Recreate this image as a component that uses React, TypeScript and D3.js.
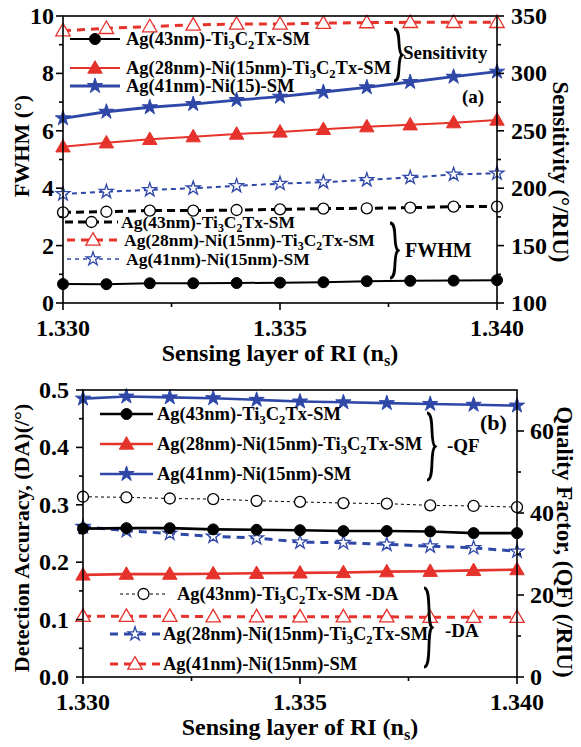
import React from "react";
import * as d3 from "d3";

// refractive index of the sensing layer
const ri = [1.33, 1.331, 1.332, 1.333, 1.334, 1.335, 1.336, 1.337, 1.338, 1.339, 1.34];

// (a) sensitivity, deg/RIU (right axis)
const sensAgTi = [116.5, 116.4, 117.2, 117.2, 117.4, 117.7, 118.1, 119.0, 119.3, 119.5, 119.9];
const sensAgNiTi = [236.1, 239.6, 242.6, 244.9, 247.2, 249.0, 251.3, 253.6, 255.3, 257.1, 259.4];
const sensAgNi = [260.9, 266.6, 270.5, 273.3, 276.8, 279.7, 283.8, 287.9, 292.5, 297.1, 301.5];
// (a) FWHM, deg (left axis)
const fwhmAgTi = [3.16, 3.18, 3.22, 3.22, 3.24, 3.26, 3.29, 3.3, 3.32, 3.36, 3.36];
const fwhmAgNiTi = [9.49, 9.57, 9.63, 9.69, 9.72, 9.72, 9.75, 9.77, 9.78, 9.78, 9.78];
const fwhmAgNi = [3.8, 3.88, 3.94, 4.0, 4.08, 4.16, 4.21, 4.29, 4.37, 4.48, 4.52];

// (b) quality factor, /RIU (right axis)
const qfAgTi = [36.2, 36.3, 36.3, 36.0, 35.9, 35.8, 35.6, 35.6, 35.5, 35.1, 35.1];
const qfAgNiTi = [24.9, 25.1, 25.1, 25.2, 25.3, 25.4, 25.5, 25.7, 25.8, 26.0, 26.2];
const qfAgNi = [67.9, 68.4, 68.2, 68.0, 67.6, 67.2, 67.0, 66.8, 66.6, 66.4, 66.2];
// (b) detection accuracy, /deg (left axis)
const daAgTi = [0.314, 0.313, 0.311, 0.31, 0.307, 0.305, 0.303, 0.302, 0.299, 0.298, 0.296];
const daAgNiTi = [0.262, 0.255, 0.25, 0.245, 0.242, 0.235, 0.234, 0.231, 0.228, 0.225, 0.219];
const daAgNi = [0.106, 0.106, 0.106, 0.105, 0.105, 0.105, 0.105, 0.105, 0.104, 0.104, 0.104];

const xTicks = [1.33, 1.335, 1.34];

const RED = "#e5322b";
const BLUE = "#2f48a8";
const FONT = "'Liberation Serif', 'Times New Roman', serif";

// "Ti_3C_2Tx" -> subscripts
const Rich = ({ s }: { s: string }) => {
  const parts = s.split(/_(\w)/);
  return (
    <>
      {parts.map((p, i) =>
        i % 2 === 1 ? (
          <tspan key={i} dy={4} fontSize="0.68em">{p}</tspan>
        ) : (
          <tspan key={i} dy={i === 0 ? 0 : -4}>{p}</tspan>
        )
      )}
    </>
  );
};

const Marker = ({ kind, x, y, color }: any) => {
  if (kind === "circle") return <circle cx={x} cy={y} r={5.5} fill={color} stroke={color} />;
  if (kind === "ocircle") return <circle cx={x} cy={y} r={5.5} fill="white" stroke={color} strokeWidth={1.3} />;
  const tri = kind.includes("tri");
  const open = kind.startsWith("o");
  const size = tri ? 90 : open ? 58 : 72;
  const d = d3.symbol().type(tri ? d3.symbolTriangle : d3.symbolStar).size(size)()!;
  return (
    <path d={d} transform={`translate(${x},${y + (tri ? 1 : 0)})`}
      fill={open ? "white" : color} stroke={color} strokeWidth={open ? 1.3 : 1} />
  );
};

const Series = ({ xs, ys, x, y, color, marker, width, dash }: any) => {
  const line = d3.line<number>().x((_, i) => x(xs[i])).y((v) => y(v));
  return (
    <g>
      <path d={line(ys)!} fill="none" stroke={color} strokeWidth={width} strokeDasharray={dash} />
      {ys.map((v: number, i: number) => (
        <Marker key={i} kind={marker} x={x(xs[i])} y={y(v)} color={color} />
      ))}
    </g>
  );
};

const LegendRow = ({ x1, x2, y, color, marker, width, dash, label, tx, fs }: any) => (
  <g>
    <line x1={x1} x2={x2} y1={y} y2={y} stroke={color} strokeWidth={width} strokeDasharray={dash} />
    <Marker kind={marker} x={(x1 + x2) / 2} y={y} color={color} />
    <text x={tx} y={y + 6} fontSize={fs} fontWeight="bold"><Rich s={label} /></text>
  </g>
);

const Brace = ({ x, y1, y2 }: any) => {
  const m = (y1 + y2) / 2;
  const w = 8;
  const d = `M${x},${y1} C${x + w},${y1} ${x + w * 0.3},${m - 4} ${x + w},${m} C${x + w * 0.3},${m + 4} ${x + w},${y2} ${x},${y2}`;
  return <path d={d} fill="none" stroke="black" strokeWidth={2.8} />;
};

const Panel = ({ box, yL, yR, yLTicks, yLMinor, yRTicks, yRMinor, fmtL, offL, offR, leftTitle, rightTitle, leftTitleY, rightTitleY, rightTitleX, children }: any) => {
  const { l, r, t, b } = box;
  const x = d3.scaleLinear().domain([1.33, 1.34]).range([l, r]);
  const xMinor = [1.3325, 1.3375];
  const tk = 7;
  return (
    <g fontFamily={FONT} fontWeight="bold">
      {children(x)}
      <rect x={l} y={t} width={r - l} height={b - t} fill="none" stroke="black" strokeWidth={1.6} />
      {xTicks.map((v) => (
        <g key={v}>
          <line x1={x(v)} x2={x(v)} y1={b} y2={b + tk} stroke="black" strokeWidth={1.6} />
          <text x={x(v)} y={b + 33} textAnchor="middle" fontSize={24}>{d3.format(".3f")(v)}</text>
        </g>
      ))}
      {xMinor.map((v) => <line key={v} x1={x(v)} x2={x(v)} y1={b} y2={b + 4} stroke="black" strokeWidth={1.6} />)}
      {yLTicks.map((v: number) => (
        <g key={v}>
          <line x1={l - tk} x2={l} y1={yL(v)} y2={yL(v)} stroke="black" strokeWidth={1.6} />
          <text x={l - offL} y={yL(v) + 8} textAnchor="end" fontSize={24}>{fmtL(v)}</text>
        </g>
      ))}
      {yLMinor.map((v: number) => <line key={v} x1={l - 4} x2={l} y1={yL(v)} y2={yL(v)} stroke="black" strokeWidth={1.6} />)}
      {yRTicks.map((v: number) => (
        <g key={v}>
          <line x1={r} x2={r + tk} y1={yR(v)} y2={yR(v)} stroke="black" strokeWidth={1.6} />
          <text x={r + offR} y={yR(v) + 8} textAnchor="start" fontSize={24}>{v}</text>
        </g>
      ))}
      {yRMinor.map((v: number) => <line key={v} x1={r} x2={r + 4} y1={yR(v)} y2={yR(v)} stroke="black" strokeWidth={1.6} />)}
      <text transform={`translate(${(l + r) / 2},${b + 58}) `} textAnchor="middle" fontSize={24}>
        Sensing layer of RI (n<tspan dy={5} fontSize="0.68em">s</tspan><tspan dy={-5}>)</tspan>
      </text>
      <text transform={`translate(29,${leftTitleY}) rotate(-90)`} textAnchor="middle" fontSize={22}>{leftTitle}</text>
      <text transform={`translate(${rightTitleX},${rightTitleY}) rotate(90)`} textAnchor="middle" fontSize={23}>{rightTitle}</text>
    </g>
  );
};

export default function App() {
  const boxA = { l: 63, r: 497, t: 16, b: 303 };
  const boxB = { l: 83, r: 517, t: 390, b: 677 };
  const yA = d3.scaleLinear().domain([0, 10]).range([boxA.b, boxA.t]);
  const yAR = d3.scaleLinear().domain([100, 350]).range([boxA.b, boxA.t]);
  const yB = d3.scaleLinear().domain([0, 0.5]).range([boxB.b, boxB.t]);
  const yBR = d3.scaleLinear().domain([0, 70]).range([boxB.b, boxB.t]);
  const fsA = 18.5;
  const fsF = 17.5;
  const fsB = 18.5;

  return (
    <svg width={581} height={747} style={{ position: "absolute", left: 0, top: 0 }}>
      <rect width={581} height={747} fill="white" />
      <Panel box={boxA} yL={yA} yR={yAR}
        yLTicks={[0, 2, 4, 6, 8, 10]} yLMinor={[1, 3, 5, 7, 9]}
        yRTicks={[100, 150, 200, 250, 300, 350]} yRMinor={[125, 175, 225, 275, 325]}
        fmtL={(v: number) => String(v)} offL={9} offR={14}
        leftTitle="FWHM (°)" rightTitle="Sensitivity (°/RIU)" leftTitleY={146} rightTitleY={172} rightTitleX={553}>
        {(x: any) => (
          <g>
            <Series xs={ri} ys={fwhmAgTi} x={x} y={yA} color="black" marker="ocircle" width={3} dash="8,5" />
            <Series xs={ri} ys={fwhmAgNiTi} x={x} y={yA} color={RED} marker="otri" width={3} dash="8,6" />
            <Series xs={ri} ys={fwhmAgNi} x={x} y={yA} color={BLUE} marker="ostar" width={2} dash="5,4" />
            <Series xs={ri} ys={sensAgTi} x={x} y={yAR} color="black" marker="circle" width={2} />
            <Series xs={ri} ys={sensAgNiTi} x={x} y={yAR} color={RED} marker="tri" width={2} />
            <Series xs={ri} ys={sensAgNi} x={x} y={yAR} color={BLUE} marker="star" width={2.8} />
            <LegendRow x1={70} x2={120} y={39} color="black" marker="circle" width={2} label="Ag(43nm)-Ti_3C_2Tx-SM" tx={126} fs={fsA} />
            <LegendRow x1={70} x2={120} y={68} color={RED} marker="tri" width={2} label="Ag(28nm)-Ni(15nm)-Ti_3C_2Tx-SM" tx={126} fs={fsA} />
            <LegendRow x1={70} x2={120} y={86} color={BLUE} marker="star" width={2.8} label="Ag(41nm)-Ni(15)-SM" tx={126} fs={fsA} />
            <Brace x={394} y1={29} y2={81} />
            <text x={403} y={59} fontSize={19}>Sensitivity</text>
            <text x={462} y={103} fontSize={19}>(a)</text>
            <LegendRow x1={65} x2={118} y={222} color="black" marker="ocircle" width={3} dash="8,5" label="Ag(43nm)-Ti_3C_2Tx-SM" tx={121} fs={fsF} />
            <LegendRow x1={67} x2={119} y={240} color={RED} marker="otri" width={3} dash="8,6" label="Ag(28nm)-Ni(15nm)-Ti_3C_2Tx-SM" tx={124} fs={fsF} />
            <LegendRow x1={67} x2={119} y={259} color={BLUE} marker="ostar" width={1.6} dash="4,4" label="Ag(41nm)-Ni(15nm)-SM" tx={126} fs={fsF} />
            <Brace x={390} y1={223} y2={278} />
            <text x={405} y={257} fontSize={20}>FWHM</text>
          </g>
        )}
      </Panel>
      <Panel box={boxB} yL={yB} yR={yBR}
        yLTicks={[0, 0.1, 0.2, 0.3, 0.4, 0.5]} yLMinor={[0.05, 0.15, 0.25, 0.35, 0.45]}
        yRTicks={[0, 20, 40, 60]} yRMinor={[10, 30, 50]}
        fmtL={(v: number) => d3.format(".1f")(v)} offL={14} offR={13}
        leftTitle="Detection Accuracy, (DA)(/°)" rightTitle="Quality Factor, (QF) (/RIU)" leftTitleY={538} rightTitleY={542} rightTitleX={557}>
        {(x: any) => (
          <g>
            <Series xs={ri} ys={daAgTi} x={x} y={yB} color="black" marker="ocircle" width={1} dash="3,3" />
            <Series xs={ri} ys={daAgNi} x={x} y={yB} color={RED} marker="otri" width={3} dash="8,6" />
            <Series xs={ri} ys={daAgNiTi} x={x} y={yB} color={BLUE} marker="ostar" width={3} dash="8,6" />
            <Series xs={ri} ys={qfAgTi} x={x} y={yBR} color="black" marker="circle" width={2.6} />
            <Series xs={ri} ys={qfAgNiTi} x={x} y={yBR} color={RED} marker="tri" width={2.6} />
            <Series xs={ri} ys={qfAgNi} x={x} y={yBR} color={BLUE} marker="star" width={2.6} />
            <LegendRow x1={100} x2={153} y={414} color="black" marker="circle" width={2.6} label="Ag(43nm)-Ti_3C_2Tx-SM" tx={157} fs={fsB} />
            <LegendRow x1={100} x2={153} y={444} color={RED} marker="tri" width={2.6} label="Ag(28nm)-Ni(15nm)-Ti_3C_2Tx-SM" tx={157} fs={fsB} />
            <LegendRow x1={100} x2={153} y={474} color={BLUE} marker="star" width={2.6} label="Ag(41nm)-Ni(15nm)-SM" tx={157} fs={fsB} />
            <Brace x={427} y1={413} y2={480} />
            <text x={447} y={452} fontSize={19}>-QF</text>
            <text x={480} y={430} fontSize={22}>(b)</text>
            <LegendRow x1={120} x2={167} y={594} color="black" marker="ocircle" width={1} dash="3,3" label="Ag(43nm)-Ti_3C_2Tx-SM -DA" tx={177} fs={fsB} />
            <LegendRow x1={110} x2={160} y={634} color={BLUE} marker="ostar" width={3} dash="8,6" label="Ag(28nm)-Ni(15nm)-Ti_3C_2Tx-SM" tx={163} fs={fsB} />
            <LegendRow x1={110} x2={160} y={664} color={RED} marker="otri" width={3} dash="8,6" label="Ag(41nm)-Ni(15nm)-SM" tx={163} fs={fsB} />
            <Brace x={424} y1={588} y2={667} />
            <text x={445} y={637} fontSize={19}>-DA</text>
          </g>
        )}
      </Panel>
    </svg>
  );
}
